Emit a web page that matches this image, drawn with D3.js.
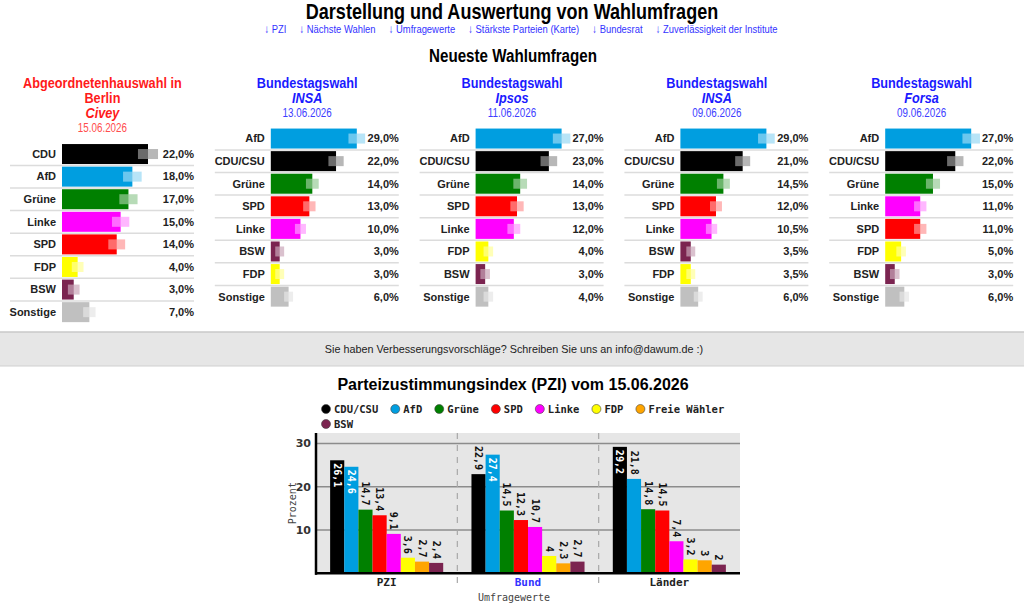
<!DOCTYPE html>
<html>
<head>
<meta charset="utf-8">
<script src="https://cdn.jsdelivr.net/npm/d3@7"></script>
<style>
  body { margin: 0; background: #fff; }
  text { font-family: "Liberation Sans", Arial, sans-serif; }
  .mono { font-family: "DejaVu Sans Mono", monospace; }
</style>
</head>
<body>
<div id="page"></div>
<script>
// ---- data: latest polls ----
const navLinks = ["PZI", "Nächste Wahlen", "Umfragewerte", "Stärkste Parteien (Karte)", "Bundesrat", "Zuverlässigkeit der Institute"];

const panelTitles = [["Abgeordnetenhauswahl in", "Berlin"], ["Bundestagswahl"], ["Bundestagswahl"], ["Bundestagswahl"], ["Bundestagswahl"]];
const panelInstitutes = ["Civey", "INSA", "Ipsos", "INSA", "Forsa"];
const panelDates = ["15.06.2026", "13.06.2026", "11.06.2026", "09.06.2026", "09.06.2026"];

const berlinParties = ["CDU", "AfD", "Grüne", "Linke", "SPD", "FDP", "BSW", "Sonstige"];
const berlinValues = [22, 18, 17, 15, 14, 4, 3, 7];
const insaParties = ["AfD", "CDU/CSU", "Grüne", "SPD", "Linke", "BSW", "FDP", "Sonstige"];
const insaValues = [29, 22, 14, 13, 10, 3, 3, 6];
const ipsosParties = ["AfD", "CDU/CSU", "Grüne", "SPD", "Linke", "FDP", "BSW", "Sonstige"];
const ipsosValues = [27, 23, 14, 13, 12, 4, 3, 4];
const insa2Parties = ["AfD", "CDU/CSU", "Grüne", "SPD", "Linke", "BSW", "FDP", "Sonstige"];
const insa2Values = [29, 21, 14.5, 12, 10.5, 3.5, 3.5, 6];
const forsaParties = ["AfD", "CDU/CSU", "Grüne", "Linke", "SPD", "FDP", "BSW", "Sonstige"];
const forsaValues = [27, 22, 15, 11, 11, 5, 3, 6];

// ---- data: PZI ----
const pziGroups = ["PZI", "Bund", "Länder"];
const pziParties = ["CDU/CSU", "AfD", "Grüne", "SPD", "Linke", "FDP", "Freie Wähler", "BSW"];
const pziValues = [26.1, 24.6, 14.7, 13.4, 9.1, 3.6, 2.7, 2.4];
const bundValues = [22.9, 27.4, 14.5, 12.3, 10.7, 4, 2.3, 2.7];
const laenderValues = [29.2, 21.8, 14.8, 14.5, 7.4, 3.2, 3, 2];
const yTicks = [10, 20, 30];

const partyColors = {
  "CDU": "#000000", "CDU/CSU": "#000000", "AfD": "#009ee0", "Grüne": "#008000",
  "SPD": "#ff0000", "Linke": "#ff00ff", "FDP": "#ffff00", "BSW": "#7b2450",
  "Freie Wähler": "#ffa500", "Sonstige": "#c0c0c0"
};

const panels = [
  { parties: berlinParties, values: berlinValues },
  { parties: insaParties, values: insaValues },
  { parties: ipsosParties, values: ipsosValues },
  { parties: insa2Parties, values: insa2Values },
  { parties: forsaParties, values: forsaValues }
];

const width = 1024, height = 608;
const svg = d3.select("#page").append("svg")
  .attr("width", width)
  .attr("height", height);

const fmt = v => d3.format(".1f")(v).replace(".", ",");

// no narrow font installed: squeeze Liberation Sans horizontally instead
function narrowText(parent, x, y, size) {
  return parent.append("g")
    .attr("transform", `translate(${x},${y}) scale(0.82,1)`)
    .append("text")
    .attr("text-anchor", "middle")
    .style("font-size", size + "px");
}

// ---- page header ----
narrowText(svg, 512, 19, 22).style("font-weight", "bold")
  .text("Darstellung und Auswertung von Wahlumfragen");

const nav = narrowText(svg, 521, 33, 11.5).attr("fill", "#3333ff");
navLinks.forEach((d, i) => {
  nav.append("tspan").attr("dx", i ? 16 : 0).text("\u2193 " + d);
});

narrowText(svg, 513, 62, 18.5).style("font-weight", "bold")
  .text("Neueste Wahlumfragen");

// ---- poll panels ----
const colX = d3.scaleBand().domain(d3.range(panels.length)).range([0, width]);

panels.forEach((p, i) => {
  const g = svg.append("g").attr("transform", `translate(${colX(i)},0)`);
  const cx = colX.bandwidth() / 2;
  const isState = i === 0;
  const mainColor = isState ? "#ff1a1a" : "#1a1aff";

  // header lines
  const lines = panelTitles[i];
  lines.forEach((t, k) => {
    narrowText(g, cx, 88 + k * 15, 15.5)
      .style("font-weight", "bold").attr("fill", mainColor).text(t);
  });
  const instY = 88 + lines.length * 15;
  narrowText(g, cx, instY, 15.5)
    .style("font-weight", "bold").style("font-style", "italic")
    .attr("fill", mainColor).text(panelInstitutes[i]);
  narrowText(g, cx, instY + 14, 12)
    .attr("fill", isState ? "#ff4d4d" : "#3d3dff").text(panelDates[i]);

  const barStart = isState ? 62 : 66;
  const rowTop = isState ? 142.7 : 127.2;
  const x = d3.scaleLinear().domain([0, d3.max(p.values)]).range([0, 86]);
  const y = d3.scaleBand().domain(p.parties)
    .range([rowTop, rowTop + p.parties.length * 22.6])
    .paddingInner(0.115).paddingOuter(0.06);
  const rows = p.parties.map((party, k) => ({ party, value: p.values[k] }));

  // separator lines
  g.selectAll(".sep").data(rows.slice(0, -1)).enter().append("line")
    .attr("x1", 10).attr("x2", 194)
    .attr("y1", d => y(d.party) + y.bandwidth() + 1.4)
    .attr("y2", d => y(d.party) + y.bandwidth() + 1.4)
    .attr("stroke", "#dcdcdc").attr("stroke-width", 1.5);

  g.selectAll(".lbl").data(rows).enter().append("text")
    .attr("x", barStart - 6)
    .attr("y", d => y(d.party) + y.bandwidth() / 2)
    .attr("dy", "0.35em").attr("text-anchor", "end")
    .style("font-size", "11px").style("font-weight", "bold")
    .attr("fill", "#222").text(d => d.party);

  g.selectAll(".bar").data(rows).enter().append("rect")
    .attr("x", barStart)
    .attr("y", d => y(d.party))
    .attr("width", d => x(d.value))
    .attr("height", y.bandwidth())
    .attr("fill", d => partyColors[d.party]);

  // statistical margin of error (95%, n about 1000) around each value
  const margin = v => Math.max(1.5, 196 * Math.sqrt((v / 100) * (1 - v / 100) / 1000));
  g.selectAll(".err").data(rows).enter().append("rect")
    .attr("x", d => barStart + x(d.value - margin(d.value)))
    .attr("y", d => y(d.party) + y.bandwidth() / 2 - 5)
    .attr("width", d => x(2 * margin(d.value)))
    .attr("height", 10)
    .attr("fill", d => d3.interpolateRgb(partyColors[d.party], "#ffffff")(0.6))
    .attr("opacity", 0.7);

  g.selectAll(".val").data(rows).enter().append("text")
    .attr("x", 194)
    .attr("y", d => y(d.party) + y.bandwidth() / 2)
    .attr("dy", "0.35em").attr("text-anchor", "end")
    .style("font-size", "11px").style("font-weight", "bold")
    .attr("fill", "#222").text(d => fmt(d.value) + "%");
});

// ---- feedback band ----
svg.append("rect").attr("x", 0).attr("y", 332).attr("width", width).attr("height", 34)
  .attr("fill", "#e6e6e6");
svg.append("line").attr("x1", 0).attr("x2", width).attr("y1", 332).attr("y2", 332)
  .attr("stroke", "#c8c8c8").attr("stroke-width", 1.5);
svg.append("line").attr("x1", 0).attr("x2", width).attr("y1", 366).attr("y2", 366)
  .attr("stroke", "#d0d0d0").attr("stroke-width", 1);
svg.append("text")
  .attr("x", 514).attr("y", 349).attr("dy", "0.35em")
  .attr("text-anchor", "middle")
  .style("font-size", "10.8px").attr("fill", "#222")
  .text("Sie haben Verbesserungsvorschläge? Schreiben Sie uns an info@dawum.de :)");

// ---- PZI chart ----
svg.append("text")
  .attr("x", 513).attr("y", 390)
  .attr("text-anchor", "middle")
  .style("font-size", "16px").style("font-weight", "bold")
  .text("Parteizustimmungsindex (PZI) vom 15.06.2026");

// legend with wrapping
const legend = svg.append("g");
let lx = 326, ly = 409;
pziParties.forEach(party => {
  const item = legend.append("g");
  const t = item.append("text").attr("class", "mono")
    .attr("x", 8).attr("dy", "0.35em")
    .style("font-size", "10.5px").style("font-weight", "bold")
    .attr("fill", "#222").text(party);
  const w = 8 + t.node().getComputedTextLength();
  if (lx + w > 735) { lx = 326; ly += 15; }
  item.attr("transform", `translate(${lx},${ly})`);
  item.append("circle").attr("r", 4.5)
    .attr("fill", partyColors[party]).attr("stroke", "#444").attr("stroke-width", 0.6);
  lx += w + 17;
});

const plot = { left: 316, right: 740, top: 433, bottom: 573.3 };
const groupData = [pziValues, bundValues, laenderValues];

const x0 = d3.scaleBand().domain(pziGroups).range([plot.left, plot.right]);
const x1 = d3.scaleBand().domain(pziParties).range([0, x0.bandwidth()])
  .paddingInner(0).paddingOuter(1);
const yP = d3.scaleLinear().domain([0, 32.4]).range([plot.bottom, plot.top]);

svg.append("rect")
  .attr("x", plot.left).attr("y", plot.top)
  .attr("width", plot.right - plot.left).attr("height", plot.bottom - plot.top)
  .attr("fill", "#e6e6e6");

svg.selectAll(".grid").data(yTicks).enter().append("line")
  .attr("x1", plot.left).attr("x2", plot.right)
  .attr("y1", d => yP(d)).attr("y2", d => yP(d))
  .attr("stroke", "#8c8c8c").attr("stroke-width", 1.5);

svg.selectAll(".ytick").data(yTicks).enter().append("text")
  .attr("x", plot.left - 5).attr("y", d => yP(d)).attr("dy", "0.35em")
  .attr("text-anchor", "end")
  .style("font-family", "'DejaVu Sans', sans-serif")
  .style("font-size", "11px").style("font-weight", "bold")
  .attr("fill", "#333").text(d => d);

// dashed group separators
svg.selectAll(".gsep").data(pziGroups.slice(1)).enter().append("line")
  .attr("x1", d => x0(d)).attr("x2", d => x0(d))
  .attr("y1", plot.top).attr("y2", 584)
  .attr("stroke", "#a8a8a8").attr("stroke-width", 1.2)
  .attr("stroke-dasharray", "6,6");

const groups = svg.selectAll(".grp").data(pziGroups).enter().append("g")
  .attr("transform", d => `translate(${x0(d)},0)`);

groups.each(function (grp, gi) {
  const g = d3.select(this);
  const rows = pziParties.map((party, k) => ({ party, value: groupData[gi][k] }));
  g.selectAll("rect").data(rows).enter().append("rect")
    .attr("x", d => x1(d.party))
    .attr("y", d => yP(d.value))
    .attr("width", x1.bandwidth())
    .attr("height", d => plot.bottom - yP(d.value))
    .attr("fill", d => partyColors[d.party]);

  g.selectAll("text").data(rows).enter().append("text").attr("class", "mono")
    .attr("transform", d => {
      const inside = d.value > 24;
      const ty = inside ? yP(d.value) + 3 : yP(d.value) - 4;
      return `translate(${x1(d.party) + x1.bandwidth() / 2},${ty}) rotate(90)`;
    })
    .attr("dy", "0.35em")
    .attr("text-anchor", d => d.value > 24 ? "start" : "end")
    .style("font-size", "10px").style("font-weight", "bold")
    .attr("fill", d => d.value > 24 ? "#fff" : "#111")
    .text(d => String(d.value).replace(".", ","));
});

// axes lines
svg.append("line").attr("x1", plot.left).attr("x2", plot.left)
  .attr("y1", plot.top).attr("y2", plot.bottom + 1.5)
  .attr("stroke", "#000").attr("stroke-width", 2.5);
svg.append("line").attr("x1", plot.left - 1).attr("x2", plot.right)
  .attr("y1", plot.bottom).attr("y2", plot.bottom)
  .attr("stroke", "#000").attr("stroke-width", 2.5);

svg.selectAll(".xlab").data(pziGroups).enter().append("text").attr("class", "mono")
  .attr("x", d => x0(d) + x0.bandwidth() / 2).attr("y", 586)
  .attr("text-anchor", "middle")
  .style("font-size", "11px").style("font-weight", "bold")
  .attr("fill", d => d === "Bund" ? "#3333ff" : "#222")
  .text(d => d);

svg.append("text").attr("class", "mono")
  .attr("x", 514).attr("y", 601)
  .attr("text-anchor", "middle")
  .style("font-size", "10px").attr("fill", "#444")
  .text("Umfragewerte");

svg.append("text").attr("class", "mono")
  .attr("transform", `translate(292,${(plot.top + plot.bottom) / 2}) rotate(-90)`)
  .attr("dy", "0.35em").attr("text-anchor", "middle")
  .style("font-size", "10px").attr("fill", "#444")
  .text("Prozent");
</script>
</body>
</html>
